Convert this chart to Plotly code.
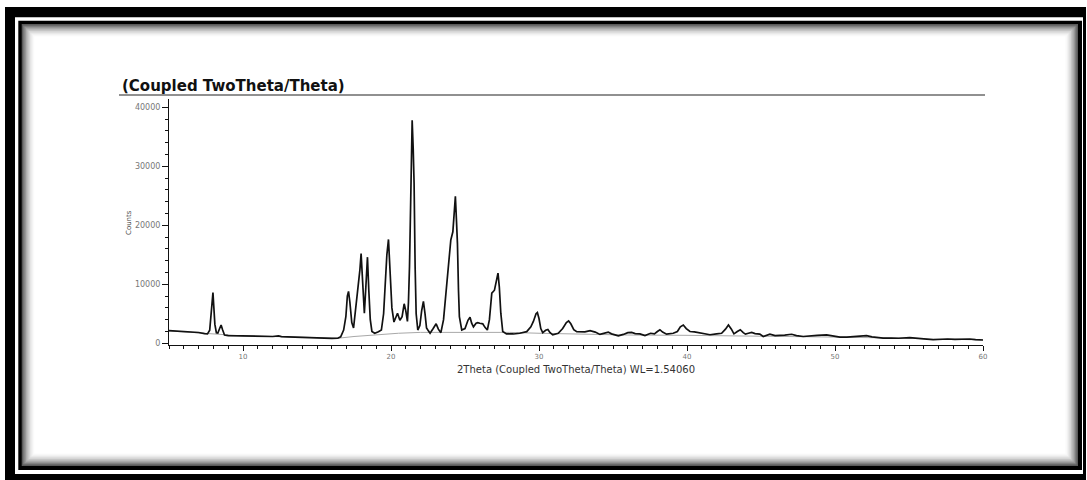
import plotly.graph_objects as go

# ---------------- data ----------------
two_theta = [
    5.0, 5.5, 6.0, 6.5, 7.0, 7.4, 7.6, 7.75, 7.85, 7.92, 7.97, 8.02, 8.1, 8.2, 8.3, 8.42, 8.52, 8.62, 8.75,
    9.0, 9.5, 10.0, 10.5, 10.9, 11.1, 11.5, 12.0, 12.4, 12.6, 13.0, 13.5, 14.0, 14.5, 15.0, 15.5, 16.0,
    16.4, 16.6, 16.8, 16.95, 17.05, 17.13, 17.22, 17.35, 17.47, 17.6, 17.69, 17.8, 17.9, 17.98, 18.07,
    18.2, 18.3, 18.41, 18.5, 18.6, 18.71, 18.9, 19.15, 19.35, 19.5, 19.6, 19.72, 19.83, 19.95, 20.06,
    20.2, 20.44, 20.6, 20.75, 20.89, 21.0, 21.11, 21.18, 21.25, 21.35, 21.43, 21.5, 21.56, 21.63, 21.7,
    21.81, 21.95, 22.07, 22.19, 22.3, 22.4, 22.49, 22.64, 22.85, 23.05, 23.2, 23.37, 23.55, 23.77, 23.9,
    24.04, 24.18, 24.28, 24.35, 24.42, 24.49, 24.56, 24.62, 24.78, 25.0, 25.2, 25.34, 25.45, 25.57,
    25.75, 25.86, 26.0, 26.2, 26.35, 26.51, 26.65, 26.81, 26.99, 27.1, 27.23, 27.32, 27.42, 27.55,
    27.8, 28.27, 28.7, 29.17, 29.45, 29.62, 29.8, 29.89, 30.0, 30.12, 30.25, 30.45, 30.6, 30.75, 30.93,
    31.3, 31.6, 31.85, 32.0, 32.15, 32.35, 32.55, 32.77, 33.1, 33.45, 33.8, 34.12, 34.4, 34.68, 34.9,
    35.14, 35.36, 35.7, 36.0, 36.26, 36.5, 36.82, 37.16, 37.54, 37.8, 38.0, 38.17, 38.35, 38.62, 39.07,
    39.35, 39.55, 39.75, 39.95, 40.2, 40.5, 40.87, 41.2, 41.55, 42.0, 42.34, 42.6, 42.8, 43.0, 43.17,
    43.4, 43.6, 43.8, 43.95, 44.15, 44.37, 44.6, 44.92, 45.15, 45.4, 45.6, 45.95, 46.28, 46.6, 47.07,
    47.4, 47.85, 48.3, 48.8, 49.43, 49.9, 50.33, 50.8, 51.3, 51.7, 52.13, 52.5, 53.25, 53.8, 54.3,
    55.05, 55.5, 56.0, 56.63, 57.2, 57.6, 58.1, 58.6, 59.1, 59.5, 60.0,
]
counts = [
    2150, 2100, 2030, 1950, 1830, 1650, 1600, 2200, 5500, 6200, 8600, 6500, 3200, 1800, 1750, 2500, 3100, 2300, 1400,
    1300, 1280, 1260, 1220, 1300, 1200, 1150, 1150, 1250, 1130, 1100, 1050, 950, 900, 880, 850, 830,
    850, 1100, 2250, 4500, 8000, 8800, 7000, 3500, 2600, 5500, 8500, 10200, 12500, 15200, 11000,
    5100, 9500, 14600, 9000, 4000, 2000, 1700, 1950, 2250, 5000, 10200, 15000, 17600, 12000, 6000,
    3600, 5100, 3900, 4500, 6700, 5500, 3700, 7000, 13000, 27000, 37800, 33000, 27100, 13000, 5000,
    2250, 3000, 5500, 7100, 5000, 2600, 2250, 1700, 2500, 3300, 2400, 1800, 4000, 10700, 14500,
    17500, 18900, 22000, 24900, 21000, 16900, 9000, 4500, 2250, 2500, 3900, 4400, 3400, 2800,
    3400, 3500, 3400, 3300, 2700, 2250, 4000, 8500, 9000, 10500, 11900, 9500, 5100, 2000,
    1600, 1580, 1700, 1970, 2800, 3700, 5000, 5200, 4200, 2500, 1800, 2200, 2350, 1800, 1420,
    1700, 2500, 3500, 3800, 3300, 2300, 1970, 1970, 1950, 2140, 1900, 1500, 1650, 1900, 1600,
    1400, 1250, 1500, 1800, 1850, 1650, 1600, 1300, 1700, 1600, 2000, 2300, 1900, 1550, 1700,
    2000, 2800, 3100, 2500, 2000, 1950, 1800, 1600, 1450, 1600, 1700, 2400, 3100, 2400, 1600,
    2000, 2300, 1800, 1550, 1700, 1850, 1650, 1550, 1150, 1350, 1530, 1300, 1300, 1400, 1530,
    1300, 1150, 1300, 1350, 1420, 1200, 1050, 1050, 1150, 1200, 1300, 1100, 880, 900, 850,
    950, 900, 750, 600, 700, 730, 650, 700, 730, 620, 560,
]

bg_theta = [5, 7, 10, 13, 16.4, 17.5, 19, 20.5, 22, 25, 28, 30, 33, 36, 40, 45, 50, 55, 60]
bg_counts = [2100, 1800, 1250, 1100, 850, 1150, 1450, 1700, 1850, 1880, 1850, 1700, 1500, 1400,
             1350, 1250, 1050, 850, 560]

x_ticks = [10, 20, 30, 40, 50, 60]
y_ticks = [0, 10000, 20000, 30000, 40000]

title_text = "(Coupled TwoTheta/Theta)"
x_title = "2Theta (Coupled TwoTheta/Theta) WL=1.54060"
y_title = "Counts"

# ---------------- layout geometry ----------------
W, H = 1087, 480
ML, MR, MT, MB = 169, 104, 99, 135
PW, PH = W - ML - MR, H - MT - MB


def px(x):
    return (x - ML) / PW


def py(y):
    return (H - MB - y) / PH


fig = go.Figure()
fig.add_trace(go.Scatter(x=bg_theta, y=bg_counts, mode="lines",
                         line=dict(color="#a8a8a8", width=1), hoverinfo="skip", showlegend=False))
fig.add_trace(go.Scatter(x=two_theta, y=counts, mode="lines",
                         line=dict(color="#111111", width=1.7), showlegend=False))

shapes = []


def rect(x0, y0, x1, y1, color):
    shapes.append(dict(type="rect", xref="paper", yref="paper",
                       x0=px(x0), x1=px(x1), y0=py(y1), y1=py(y0),
                       fillcolor=color, line=dict(width=0), layer="below"))


# picture frame
rect(5, 7, 1086, 480, "#000000")
rect(15, 17.3, 1083, 474, "#ffffff")
rect(18.3, 20.7, 1082, 470, "#000000")
shade = ["#5a5a5a", "#7a7a7a", "#969696", "#aeaeae", "#c4c4c4", "#d6d6d6", "#e6e6e6", "#f2f2f2", "#fafafa"]
for i, c in enumerate(shade):
    d = 1.4 * i
    rect(21.7 + d, 24 + d, 1078 - d, 466 - d, c)
rect(21.7 + 1.4 * len(shade), 24 + 1.4 * len(shade), 1078 - 1.4 * len(shade), 466 - 1.4 * len(shade), "#ffffff")

# title underline
shapes.append(dict(type="line", xref="paper", yref="paper", x0=px(119), x1=px(985), y0=py(95), y1=py(95),
                   line=dict(color="#222222", width=1.2)))

annotations = [
    dict(text="<b>" + title_text + "</b>", xref="paper", yref="paper", x=px(120), y=py(86),
         xanchor="left", yanchor="middle", showarrow=False,
         font=dict(family="DejaVu Sans", size=15, color="#111111")),
    dict(text=x_title, xref="paper", yref="paper", x=px(576), y=py(369),
         xanchor="center", yanchor="middle", showarrow=False,
         font=dict(family="DejaVu Sans", size=10, color="#333333")),
    dict(text=y_title, xref="paper", yref="paper", x=px(128.5), y=py(222.5), textangle=-90,
         xanchor="center", yanchor="middle", showarrow=False,
         font=dict(family="DejaVu Sans", size=7, color="#444444")),
]

fig.update_layout(
    width=W, height=H,
    margin=dict(l=ML, r=MR, t=MT, b=MB, pad=0),
    paper_bgcolor="white", plot_bgcolor="rgba(0,0,0,0)",
    shapes=shapes, annotations=annotations, showlegend=False,
)
fig.update_xaxes(range=[5, 60], tickvals=x_ticks, ticktext=[str(v) for v in x_ticks],
                 showgrid=False, zeroline=False, showline=True, linecolor="#111111", linewidth=1,
                 ticks="outside", ticklen=5, tickcolor="#111111",
                 tickfont=dict(family="DejaVu Sans", size=7, color="#777777"),
                 minor=dict(dtick=1, tick0=5, ticks="outside", ticklen=3, tickcolor="#111111", showgrid=False))
fig.update_yaxes(range=[-290, 41410], tickvals=y_ticks, ticktext=[str(v) for v in y_ticks],
                 showgrid=False, zeroline=False, showline=True, linecolor="#111111", linewidth=1,
                 ticks="outside", ticklen=6, tickcolor="#111111",
                 tickfont=dict(family="DejaVu Sans", size=8, color="#777777"),
                 minor=dict(dtick=2000, tick0=0, ticks="outside", ticklen=3, tickcolor="#111111", showgrid=False))

fig.write_html("out.html")
